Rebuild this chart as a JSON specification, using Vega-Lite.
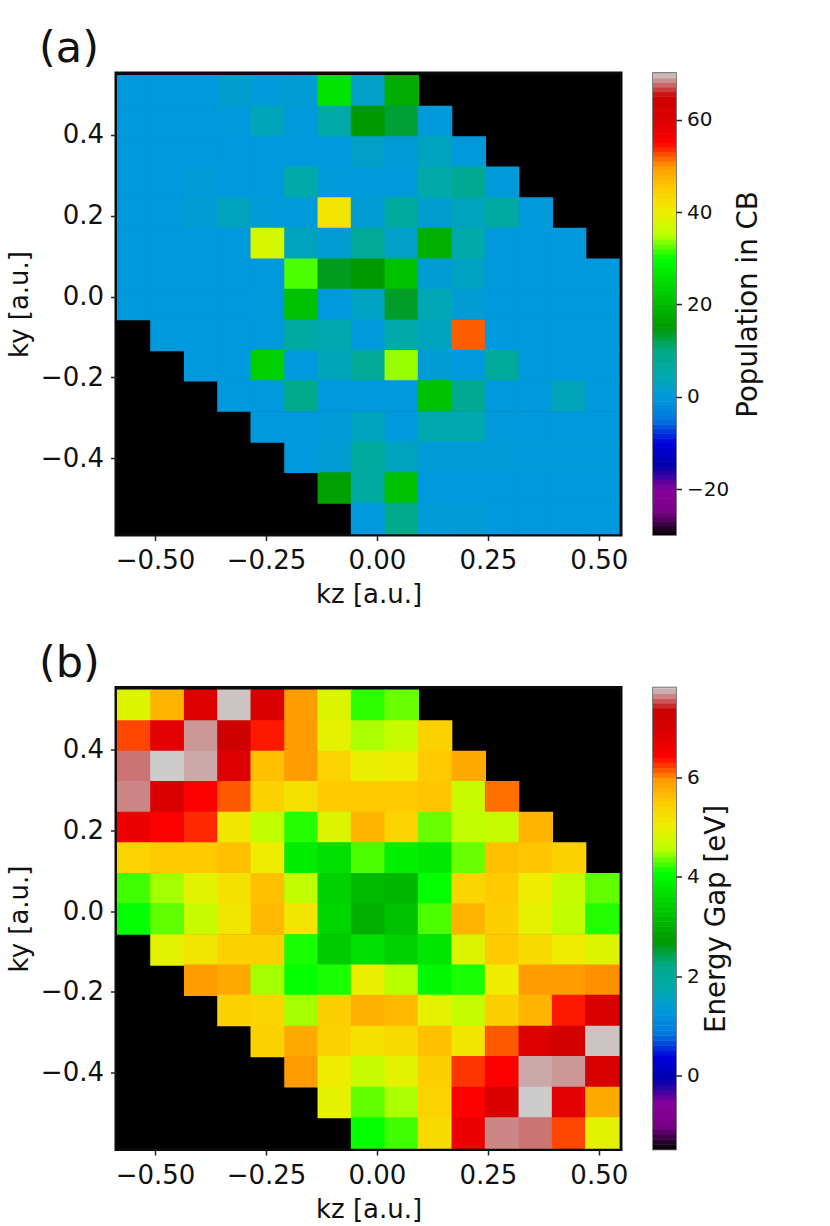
{"$schema":"https://vega.github.io/schema/vega-lite/v6.json","background":"white","padding":{"left":4,"top":26,"right":0,"bottom":0},
"config":{"font":"DejaVu Sans","view":{"fill":"#000000","stroke":"#0a0a0a","strokeWidth":3},"axis":{"grid":false,"domain":false,"tickColor":"#222222","tickSize":5.5,"tickWidth":1.5,"labelFontSize":26,"titleFontSize":26,"labelColor":"#111111","titleColor":"#111111","titleFontWeight":"normal","labelPadding":7,"titlePadding":8,"labelFlush":false},"title":{"fontSize":43,"fontWeight":"normal","color":"#111111","anchor":"start","frame":"group","dx":-77,"offset":2}},
"resolve":{"scale":{"color":"independent"}},"spacing":31.5,
"datasets":{
"a":[
{"z":-0.547,"y":0.508,"v":0},{"z":-0.472,"y":0.508,"v":0},{"z":-0.396,"y":0.508,"v":0},{"z":-0.321,"y":0.508,"v":1.5},{"z":-0.246,"y":0.508,"v":0.3},{"z":-0.17,"y":0.508,"v":1},{"z":-0.095,"y":0.508,"v":26},{"z":-0.02,"y":0.508,"v":2},{"z":0.056,"y":0.508,"v":18},
{"z":-0.547,"y":0.432,"v":0},{"z":-0.472,"y":0.432,"v":0},{"z":-0.396,"y":0.432,"v":0},{"z":-0.321,"y":0.432,"v":0.3},{"z":-0.246,"y":0.432,"v":3.5},{"z":-0.17,"y":0.432,"v":0.3},{"z":-0.095,"y":0.432,"v":5},{"z":-0.02,"y":0.432,"v":15},{"z":0.056,"y":0.432,"v":13},{"z":0.131,"y":0.432,"v":0.3},
{"z":-0.547,"y":0.357,"v":0},{"z":-0.472,"y":0.357,"v":0},{"z":-0.396,"y":0.357,"v":0},{"z":-0.321,"y":0.357,"v":0},{"z":-0.246,"y":0.357,"v":0},{"z":-0.17,"y":0.357,"v":0},{"z":-0.095,"y":0.357,"v":0},{"z":-0.02,"y":0.357,"v":2},{"z":0.056,"y":0.357,"v":0.7},{"z":0.131,"y":0.357,"v":3},{"z":0.207,"y":0.357,"v":0.2},
{"z":-0.547,"y":0.282,"v":0},{"z":-0.472,"y":0.282,"v":0},{"z":-0.396,"y":0.282,"v":0.5},{"z":-0.321,"y":0.282,"v":0},{"z":-0.246,"y":0.282,"v":0},{"z":-0.17,"y":0.282,"v":5},{"z":-0.095,"y":0.282,"v":0.3},{"z":-0.02,"y":0.282,"v":0.3},{"z":0.056,"y":0.282,"v":0.3},{"z":0.131,"y":0.282,"v":5},{"z":0.207,"y":0.282,"v":8.5},{"z":0.282,"y":0.282,"v":0.3},
{"z":-0.547,"y":0.206,"v":0},{"z":-0.472,"y":0.206,"v":0},{"z":-0.396,"y":0.206,"v":1},{"z":-0.321,"y":0.206,"v":3},{"z":-0.246,"y":0.206,"v":0.5},{"z":-0.17,"y":0.206,"v":0.2},{"z":-0.095,"y":0.206,"v":41.5},{"z":-0.02,"y":0.206,"v":1},{"z":0.056,"y":0.206,"v":7},{"z":0.131,"y":0.206,"v":1.5},{"z":0.207,"y":0.206,"v":3},{"z":0.282,"y":0.206,"v":6},{"z":0.358,"y":0.206,"v":0.2},
{"z":-0.547,"y":0.131,"v":0},{"z":-0.472,"y":0.131,"v":0},{"z":-0.396,"y":0.131,"v":0},{"z":-0.321,"y":0.131,"v":0},{"z":-0.246,"y":0.131,"v":37.5},{"z":-0.17,"y":0.131,"v":3},{"z":-0.095,"y":0.131,"v":1},{"z":-0.02,"y":0.131,"v":8},{"z":0.056,"y":0.131,"v":2},{"z":0.131,"y":0.131,"v":18.5},{"z":0.207,"y":0.131,"v":5},{"z":0.282,"y":0.131,"v":0},{"z":0.358,"y":0.131,"v":0},{"z":0.433,"y":0.131,"v":0},
{"z":-0.547,"y":0.055,"v":0},{"z":-0.472,"y":0.055,"v":0},{"z":-0.396,"y":0.055,"v":0},{"z":-0.321,"y":0.055,"v":0},{"z":-0.246,"y":0.055,"v":0},{"z":-0.17,"y":0.055,"v":32},{"z":-0.095,"y":0.055,"v":14},{"z":-0.02,"y":0.055,"v":15},{"z":0.056,"y":0.055,"v":21},{"z":0.131,"y":0.055,"v":1},{"z":0.207,"y":0.055,"v":2.5},{"z":0.282,"y":0.055,"v":0},{"z":0.358,"y":0.055,"v":0},{"z":0.433,"y":0.055,"v":0},{"z":0.508,"y":0.055,"v":0},
{"z":-0.547,"y":-0.02,"v":0},{"z":-0.472,"y":-0.02,"v":0},{"z":-0.396,"y":-0.02,"v":0},{"z":-0.321,"y":-0.02,"v":0},{"z":-0.246,"y":-0.02,"v":0.3},{"z":-0.17,"y":-0.02,"v":21},{"z":-0.095,"y":-0.02,"v":0},{"z":-0.02,"y":-0.02,"v":2.5},{"z":0.056,"y":-0.02,"v":13.5},{"z":0.131,"y":-0.02,"v":4},{"z":0.207,"y":-0.02,"v":1},{"z":0.282,"y":-0.02,"v":0},{"z":0.358,"y":-0.02,"v":0},{"z":0.433,"y":-0.02,"v":0},{"z":0.508,"y":-0.02,"v":0},
{"z":-0.472,"y":-0.096,"v":0},{"z":-0.396,"y":-0.096,"v":0},{"z":-0.321,"y":-0.096,"v":0},{"z":-0.246,"y":-0.096,"v":0},{"z":-0.17,"y":-0.096,"v":6},{"z":-0.095,"y":-0.096,"v":4.5},{"z":-0.02,"y":-0.096,"v":0.3},{"z":0.056,"y":-0.096,"v":5},{"z":0.131,"y":-0.096,"v":3},{"z":0.207,"y":-0.096,"v":52},{"z":0.282,"y":-0.096,"v":0},{"z":0.358,"y":-0.096,"v":0},{"z":0.433,"y":-0.096,"v":0},{"z":0.508,"y":-0.096,"v":0},
{"z":-0.396,"y":-0.171,"v":0},{"z":-0.321,"y":-0.171,"v":0},{"z":-0.246,"y":-0.171,"v":23},{"z":-0.17,"y":-0.171,"v":0},{"z":-0.095,"y":-0.171,"v":3.5},{"z":-0.02,"y":-0.171,"v":8},{"z":0.056,"y":-0.171,"v":34},{"z":0.131,"y":-0.171,"v":1},{"z":0.207,"y":-0.171,"v":0},{"z":0.282,"y":-0.171,"v":7.5},{"z":0.358,"y":-0.171,"v":0},{"z":0.433,"y":-0.171,"v":0},{"z":0.508,"y":-0.171,"v":0},
{"z":-0.321,"y":-0.246,"v":0},{"z":-0.246,"y":-0.246,"v":0},{"z":-0.17,"y":-0.246,"v":9.5},{"z":-0.095,"y":-0.246,"v":0},{"z":-0.02,"y":-0.246,"v":0},{"z":0.056,"y":-0.246,"v":0},{"z":0.131,"y":-0.246,"v":21},{"z":0.207,"y":-0.246,"v":8.5},{"z":0.282,"y":-0.246,"v":0},{"z":0.358,"y":-0.246,"v":0},{"z":0.433,"y":-0.246,"v":3.5},{"z":0.508,"y":-0.246,"v":0},
{"z":-0.246,"y":-0.322,"v":0},{"z":-0.17,"y":-0.322,"v":0},{"z":-0.095,"y":-0.322,"v":0.5},{"z":-0.02,"y":-0.322,"v":3},{"z":0.056,"y":-0.322,"v":0},{"z":0.131,"y":-0.322,"v":4.5},{"z":0.207,"y":-0.322,"v":4.5},{"z":0.282,"y":-0.322,"v":0.3},{"z":0.358,"y":-0.322,"v":0},{"z":0.433,"y":-0.322,"v":0},{"z":0.508,"y":-0.322,"v":0},
{"z":-0.17,"y":-0.397,"v":0},{"z":-0.095,"y":-0.397,"v":1},{"z":-0.02,"y":-0.397,"v":7},{"z":0.056,"y":-0.397,"v":3},{"z":0.131,"y":-0.397,"v":0.5},{"z":0.207,"y":-0.397,"v":0.5},{"z":0.282,"y":-0.397,"v":0.5},{"z":0.358,"y":-0.397,"v":0.3},{"z":0.433,"y":-0.397,"v":0.3},{"z":0.508,"y":-0.397,"v":0.3},
{"z":-0.095,"y":-0.473,"v":16},{"z":-0.02,"y":-0.473,"v":6},{"z":0.056,"y":-0.473,"v":21},{"z":0.131,"y":-0.473,"v":0},{"z":0.207,"y":-0.473,"v":0},{"z":0.282,"y":-0.473,"v":0},{"z":0.358,"y":-0.473,"v":0},{"z":0.433,"y":-0.473,"v":0},{"z":0.508,"y":-0.473,"v":0},
{"z":-0.02,"y":-0.548,"v":0},{"z":0.056,"y":-0.548,"v":9.5},{"z":0.131,"y":-0.548,"v":0.5},{"z":0.207,"y":-0.548,"v":0.7},{"z":0.282,"y":-0.548,"v":0},{"z":0.358,"y":-0.548,"v":0},{"z":0.433,"y":-0.548,"v":0},{"z":0.508,"y":-0.548,"v":0}
],
"b":[
{"z":-0.547,"y":0.508,"v":4.86},{"z":-0.472,"y":0.508,"v":5.7},{"z":-0.396,"y":0.508,"v":6.92},{"z":-0.321,"y":0.508,"v":7.8},{"z":-0.246,"y":0.508,"v":7},{"z":-0.17,"y":0.508,"v":5.93},{"z":-0.095,"y":0.508,"v":4.86},{"z":-0.02,"y":0.508,"v":4.2},{"z":0.056,"y":0.508,"v":4.35},
{"z":-0.547,"y":0.432,"v":6.21},{"z":-0.472,"y":0.432,"v":6.8},{"z":-0.396,"y":0.432,"v":7.7},{"z":-0.321,"y":0.432,"v":7.3},{"z":-0.246,"y":0.432,"v":6.35},{"z":-0.17,"y":0.432,"v":5.93},{"z":-0.095,"y":0.432,"v":4.95},{"z":-0.02,"y":0.432,"v":4.52},{"z":0.056,"y":0.432,"v":4.65},{"z":0.131,"y":0.432,"v":5.42},
{"z":-0.547,"y":0.357,"v":7.62},{"z":-0.472,"y":0.357,"v":7.85},{"z":-0.396,"y":0.357,"v":7.74},{"z":-0.321,"y":0.357,"v":6.92},{"z":-0.246,"y":0.357,"v":5.6},{"z":-0.17,"y":0.357,"v":5.93},{"z":-0.095,"y":0.357,"v":5.38},{"z":-0.02,"y":0.357,"v":5},{"z":0.056,"y":0.357,"v":5.05},{"z":0.131,"y":0.357,"v":5.5},{"z":0.207,"y":0.357,"v":5.8},
{"z":-0.547,"y":0.282,"v":7.66},{"z":-0.472,"y":0.282,"v":7},{"z":-0.396,"y":0.282,"v":6.45},{"z":-0.321,"y":0.282,"v":6.15},{"z":-0.246,"y":0.282,"v":5.42},{"z":-0.17,"y":0.282,"v":5.2},{"z":-0.095,"y":0.282,"v":5.5},{"z":-0.02,"y":0.282,"v":5.5},{"z":0.056,"y":0.282,"v":5.5},{"z":0.131,"y":0.282,"v":5.55},{"z":0.207,"y":0.282,"v":4.68},{"z":0.282,"y":0.282,"v":6.08},
{"z":-0.547,"y":0.206,"v":6.68},{"z":-0.472,"y":0.206,"v":6.45},{"z":-0.396,"y":0.206,"v":6.3},{"z":-0.321,"y":0.206,"v":5.14},{"z":-0.246,"y":0.206,"v":4.6},{"z":-0.17,"y":0.206,"v":4.18},{"z":-0.095,"y":0.206,"v":4.86},{"z":-0.02,"y":0.206,"v":5.7},{"z":0.056,"y":0.206,"v":5.38},{"z":0.131,"y":0.206,"v":4.35},{"z":0.207,"y":0.206,"v":4.6},{"z":0.282,"y":0.206,"v":4.65},{"z":0.358,"y":0.206,"v":5.7},
{"z":-0.547,"y":0.131,"v":5.38},{"z":-0.472,"y":0.131,"v":5.5},{"z":-0.396,"y":0.131,"v":5.5},{"z":-0.321,"y":0.131,"v":5.6},{"z":-0.246,"y":0.131,"v":5.05},{"z":-0.17,"y":0.131,"v":3.85},{"z":-0.095,"y":0.131,"v":3.65},{"z":-0.02,"y":0.131,"v":4.28},{"z":0.056,"y":0.131,"v":3.9},{"z":0.131,"y":0.131,"v":3.8},{"z":0.207,"y":0.131,"v":4.35},{"z":0.282,"y":0.131,"v":5.6},{"z":0.358,"y":0.131,"v":5.55},{"z":0.433,"y":0.131,"v":5.42},
{"z":-0.547,"y":0.055,"v":4.25},{"z":-0.472,"y":0.055,"v":4.5},{"z":-0.396,"y":0.055,"v":4.92},{"z":-0.321,"y":0.055,"v":5.2},{"z":-0.246,"y":0.055,"v":5.6},{"z":-0.17,"y":0.055,"v":4.6},{"z":-0.095,"y":0.055,"v":3.46},{"z":-0.02,"y":0.055,"v":3.15},{"z":0.056,"y":0.055,"v":3.1},{"z":0.131,"y":0.055,"v":4.1},{"z":0.207,"y":0.055,"v":5.35},{"z":0.282,"y":0.055,"v":5.5},{"z":0.358,"y":0.055,"v":5.05},{"z":0.433,"y":0.055,"v":4.65},{"z":0.508,"y":0.055,"v":4.33},
{"z":-0.547,"y":-0.02,"v":4.1},{"z":-0.472,"y":-0.02,"v":4.33},{"z":-0.396,"y":-0.02,"v":4.68},{"z":-0.321,"y":-0.02,"v":5.14},{"z":-0.246,"y":-0.02,"v":5.65},{"z":-0.17,"y":-0.02,"v":5.14},{"z":-0.095,"y":-0.02,"v":3.55},{"z":-0.02,"y":-0.02,"v":3},{"z":0.056,"y":-0.02,"v":3.25},{"z":0.131,"y":-0.02,"v":4.28},{"z":0.207,"y":-0.02,"v":5.7},{"z":0.282,"y":-0.02,"v":5.45},{"z":0.358,"y":-0.02,"v":4.95},{"z":0.433,"y":-0.02,"v":4.6},{"z":0.508,"y":-0.02,"v":4.18},
{"z":-0.472,"y":-0.096,"v":4.92},{"z":-0.396,"y":-0.096,"v":5.14},{"z":-0.321,"y":-0.096,"v":5.42},{"z":-0.246,"y":-0.096,"v":5.42},{"z":-0.17,"y":-0.096,"v":4.15},{"z":-0.095,"y":-0.096,"v":3.4},{"z":-0.02,"y":-0.096,"v":3.65},{"z":0.056,"y":-0.096,"v":3.48},{"z":0.131,"y":-0.096,"v":3.75},{"z":0.207,"y":-0.096,"v":4.86},{"z":0.282,"y":-0.096,"v":5.5},{"z":0.358,"y":-0.096,"v":5.28},{"z":0.433,"y":-0.096,"v":5.05},{"z":0.508,"y":-0.096,"v":4.86},
{"z":-0.396,"y":-0.171,"v":5.93},{"z":-0.321,"y":-0.171,"v":5.8},{"z":-0.246,"y":-0.171,"v":4.5},{"z":-0.17,"y":-0.171,"v":4.1},{"z":-0.095,"y":-0.171,"v":4.15},{"z":-0.02,"y":-0.171,"v":5},{"z":0.056,"y":-0.171,"v":4.55},{"z":0.131,"y":-0.171,"v":4},{"z":0.207,"y":-0.171,"v":4.15},{"z":0.282,"y":-0.171,"v":5.05},{"z":0.358,"y":-0.171,"v":5.93},{"z":0.433,"y":-0.171,"v":5.93},{"z":0.508,"y":-0.171,"v":5.98},
{"z":-0.321,"y":-0.246,"v":5.42},{"z":-0.246,"y":-0.246,"v":5.36},{"z":-0.17,"y":-0.246,"v":4.5},{"z":-0.095,"y":-0.246,"v":5.45},{"z":-0.02,"y":-0.246,"v":5.75},{"z":0.056,"y":-0.246,"v":5.65},{"z":0.131,"y":-0.246,"v":4.95},{"z":0.207,"y":-0.246,"v":4.65},{"z":0.282,"y":-0.246,"v":5.45},{"z":0.358,"y":-0.246,"v":5.7},{"z":0.433,"y":-0.246,"v":6.35},{"z":0.508,"y":-0.246,"v":7},
{"z":-0.246,"y":-0.322,"v":5.42},{"z":-0.17,"y":-0.322,"v":5.8},{"z":-0.095,"y":-0.322,"v":5.42},{"z":-0.02,"y":-0.322,"v":5.22},{"z":0.056,"y":-0.322,"v":5.28},{"z":0.131,"y":-0.322,"v":5.6},{"z":0.207,"y":-0.322,"v":5.14},{"z":0.282,"y":-0.322,"v":6.15},{"z":0.358,"y":-0.322,"v":6.92},{"z":0.433,"y":-0.322,"v":7.2},{"z":0.508,"y":-0.322,"v":7.8},
{"z":-0.17,"y":-0.397,"v":5.93},{"z":-0.095,"y":-0.397,"v":5.05},{"z":-0.02,"y":-0.397,"v":4.68},{"z":0.056,"y":-0.397,"v":4.92},{"z":0.131,"y":-0.397,"v":5.45},{"z":0.207,"y":-0.397,"v":6.26},{"z":0.282,"y":-0.397,"v":6.45},{"z":0.358,"y":-0.397,"v":7.74},{"z":0.433,"y":-0.397,"v":7.7},{"z":0.508,"y":-0.397,"v":7},
{"z":-0.095,"y":-0.473,"v":4.95},{"z":-0.02,"y":-0.473,"v":4.33},{"z":0.056,"y":-0.473,"v":4.52},{"z":0.131,"y":-0.473,"v":5.38},{"z":0.207,"y":-0.473,"v":6.45},{"z":0.282,"y":-0.473,"v":7},{"z":0.358,"y":-0.473,"v":7.85},{"z":0.433,"y":-0.473,"v":6.8},{"z":0.508,"y":-0.473,"v":5.8},
{"z":-0.02,"y":-0.548,"v":4.1},{"z":0.056,"y":-0.548,"v":4.25},{"z":0.131,"y":-0.548,"v":5.28},{"z":0.207,"y":-0.548,"v":6.68},{"z":0.282,"y":-0.548,"v":7.66},{"z":0.358,"y":-0.548,"v":7.62},{"z":0.433,"y":-0.548,"v":6.21},{"z":0.508,"y":-0.548,"v":4.92}
],
"ca":[{"v":-29.5},{"v":-28.5},{"v":-27.5},{"v":-26.5},{"v":-25.5},{"v":-24.5},{"v":-23.5},{"v":-22.5},{"v":-21.5},{"v":-20.5},{"v":-19.5},{"v":-18.5},{"v":-17.5},{"v":-16.5},{"v":-15.5},{"v":-14.5},{"v":-13.5},{"v":-12.5},{"v":-11.5},{"v":-10.5},{"v":-9.5},{"v":-8.5},{"v":-7.5},{"v":-6.5},{"v":-5.5},{"v":-4.5},{"v":-3.5},{"v":-2.5},{"v":-1.5},{"v":-0.5},{"v":0.5},{"v":1.5},{"v":2.5},{"v":3.5},{"v":4.5},{"v":5.5},{"v":6.5},{"v":7.5},{"v":8.5},{"v":9.5},{"v":10.5},{"v":11.5},{"v":12.5},{"v":13.5},{"v":14.5},{"v":15.5},{"v":16.5},{"v":17.5},{"v":18.5},{"v":19.5},{"v":20.5},{"v":21.5},{"v":22.5},{"v":23.5},{"v":24.5},{"v":25.5},{"v":26.5},{"v":27.5},{"v":28.5},{"v":29.5},{"v":30.5},{"v":31.5},{"v":32.5},{"v":33.5},{"v":34.5},{"v":35.5},{"v":36.5},{"v":37.5},{"v":38.5},{"v":39.5},{"v":40.5},{"v":41.5},{"v":42.5},{"v":43.5},{"v":44.5},{"v":45.5},{"v":46.5},{"v":47.5},{"v":48.5},{"v":49.5},{"v":50.5},{"v":51.5},{"v":52.5},{"v":53.5},{"v":54.5},{"v":55.5},{"v":56.5},{"v":57.5},{"v":58.5},{"v":59.5},{"v":60.5},{"v":61.5},{"v":62.5},{"v":63.5},{"v":64.5},{"v":65.5},{"v":66.5},{"v":67.5},{"v":68.5},{"v":69.5}],
"cb":[{"v":-1.45},{"v":-1.35},{"v":-1.25},{"v":-1.15},{"v":-1.05},{"v":-0.95},{"v":-0.85},{"v":-0.75},{"v":-0.65},{"v":-0.55},{"v":-0.45},{"v":-0.35},{"v":-0.25},{"v":-0.15},{"v":-0.05},{"v":0.05},{"v":0.15},{"v":0.25},{"v":0.35},{"v":0.45},{"v":0.55},{"v":0.65},{"v":0.75},{"v":0.85},{"v":0.95},{"v":1.05},{"v":1.15},{"v":1.25},{"v":1.35},{"v":1.45},{"v":1.55},{"v":1.65},{"v":1.75},{"v":1.85},{"v":1.95},{"v":2.05},{"v":2.15},{"v":2.25},{"v":2.35},{"v":2.45},{"v":2.55},{"v":2.65},{"v":2.75},{"v":2.85},{"v":2.95},{"v":3.05},{"v":3.15},{"v":3.25},{"v":3.35},{"v":3.45},{"v":3.55},{"v":3.65},{"v":3.75},{"v":3.85},{"v":3.95},{"v":4.05},{"v":4.15},{"v":4.25},{"v":4.35},{"v":4.45},{"v":4.55},{"v":4.65},{"v":4.75},{"v":4.85},{"v":4.95},{"v":5.05},{"v":5.15},{"v":5.25},{"v":5.35},{"v":5.45},{"v":5.55},{"v":5.65},{"v":5.75},{"v":5.85},{"v":5.95},{"v":6.05},{"v":6.15},{"v":6.25},{"v":6.35},{"v":6.45},{"v":6.55},{"v":6.65},{"v":6.75},{"v":6.85},{"v":6.95},{"v":7.05},{"v":7.15},{"v":7.25},{"v":7.35},{"v":7.45},{"v":7.55},{"v":7.65},{"v":7.75},{"v":7.85}]
},
"vconcat":[
{"spacing":22,"resolve":{"scale":{"color":"shared"}},"hconcat":[
{"width":505,"height":462,"title":"(a)","data":{"name":"a"},"mark":{"type":"rect","width":34.5,"height":31.5},"encoding":{
"x":{"field":"z","type":"quantitative","scale":{"domain":[-0.588,0.55],"nice":false,"zero":false},"axis":{"title":"kz [a.u.]","values":[-0.5,-0.25,0,0.25,0.5],"labelExpr":"(datum.value<0?'−':'')+format(abs(datum.value),'.2f')"}},
"y":{"field":"y","type":"quantitative","scale":{"domain":[-0.589,0.552],"nice":false,"zero":false},"axis":{"title":"ky [a.u.]","values":[-0.4,-0.2,0,0.2,0.4],"labelExpr":"(datum.value<0?'−':'')+format(abs(datum.value),'.1f')"}},
"color":{"field":"v","type":"quantitative","legend":null,"scale":{"interpolate":"rgb","clamp":true,"domain":[-30,-25,-20,-15,-10,-5,0,5,10,15,20,25,30,35,40,45,50,55,60,65,70],"range":["#000000","#770088","#880099","#0000AA","#0000DD","#0077DD","#0099DD","#00AAAA","#00AA88","#009900","#00BB00","#00DD00","#00FF00","#BBFF00","#EEEE00","#FFCC00","#FF9900","#FF0000","#DD0000","#CC0000","#CCCCCC"]}}}},
{"width":23,"height":462,"view":{"fill":"#ffffff","stroke":"#555555","strokeWidth":1.5},"data":{"name":"ca"},"mark":{"type":"rect","height":5.2,"clip":true},"encoding":{
"y":{"field":"v","type":"quantitative","scale":{"domain":[-29.9,70.1],"nice":false,"zero":false},"axis":{"orient":"right","title":"Population in CB","titleAngle":-90,"titleBaseline":"top","titleFontSize":27.7,"labelFontSize":20,"labelPadding":5,"values":[-20,0,20,40,60],"titlePadding":6,"labelExpr":"(datum.value<0?'−':'')+abs(datum.value)"}},
"color":{"field":"v","type":"quantitative","legend":null,"scale":{"interpolate":"rgb","clamp":true,"domain":[-30,-25,-20,-15,-10,-5,0,5,10,15,20,25,30,35,40,45,50,55,60,65,70],"range":["#000000","#770088","#880099","#0000AA","#0000DD","#0077DD","#0099DD","#00AAAA","#00AA88","#009900","#00BB00","#00DD00","#00FF00","#BBFF00","#EEEE00","#FFCC00","#FF9900","#FF0000","#DD0000","#CC0000","#CCCCCC"]}}}}
]},
{"spacing":22,"resolve":{"scale":{"color":"shared"}},"hconcat":[
{"width":505,"height":462,"title":"(b)","data":{"name":"b"},"mark":{"type":"rect","width":34.5,"height":31.5},"encoding":{
"x":{"field":"z","type":"quantitative","scale":{"domain":[-0.588,0.55],"nice":false,"zero":false},"axis":{"title":"kz [a.u.]","values":[-0.5,-0.25,0,0.25,0.5],"labelExpr":"(datum.value<0?'−':'')+format(abs(datum.value),'.2f')"}},
"y":{"field":"y","type":"quantitative","scale":{"domain":[-0.589,0.552],"nice":false,"zero":false},"axis":{"title":"ky [a.u.]","values":[-0.4,-0.2,0,0.2,0.4],"labelExpr":"(datum.value<0?'−':'')+format(abs(datum.value),'.1f')"}},
"color":{"field":"v","type":"quantitative","legend":null,"scale":{"interpolate":"rgb","clamp":true,"domain":[-1.5,-1.034,-0.568,-0.102,0.364,0.83,1.296,1.762,2.228,2.694,3.16,3.626,4.092,4.558,5.024,5.49,5.956,6.422,6.888,7.354,7.82],"range":["#000000","#770088","#880099","#0000AA","#0000DD","#0077DD","#0099DD","#00AAAA","#00AA88","#009900","#00BB00","#00DD00","#00FF00","#BBFF00","#EEEE00","#FFCC00","#FF9900","#FF0000","#DD0000","#CC0000","#CCCCCC"]}}}},
{"width":23,"height":462,"view":{"fill":"#ffffff","stroke":"#555555","strokeWidth":1.5},"data":{"name":"cb"},"mark":{"type":"rect","height":5.5,"clip":true},"encoding":{
"y":{"field":"v","type":"quantitative","scale":{"domain":[-1.5,7.82],"nice":false,"zero":false},"axis":{"orient":"right","title":"Energy Gap [eV]","titleAngle":-90,"titleBaseline":"top","titleFontSize":27.7,"labelFontSize":20,"labelPadding":5,"values":[0,2,4,6],"titlePadding":3}},
"color":{"field":"v","type":"quantitative","legend":null,"scale":{"interpolate":"rgb","clamp":true,"domain":[-1.5,-1.034,-0.568,-0.102,0.364,0.83,1.296,1.762,2.228,2.694,3.16,3.626,4.092,4.558,5.024,5.49,5.956,6.422,6.888,7.354,7.82],"range":["#000000","#770088","#880099","#0000AA","#0000DD","#0077DD","#0099DD","#00AAAA","#00AA88","#009900","#00BB00","#00DD00","#00FF00","#BBFF00","#EEEE00","#FFCC00","#FF9900","#FF0000","#DD0000","#CC0000","#CCCCCC"]}}}}
]}
]}
